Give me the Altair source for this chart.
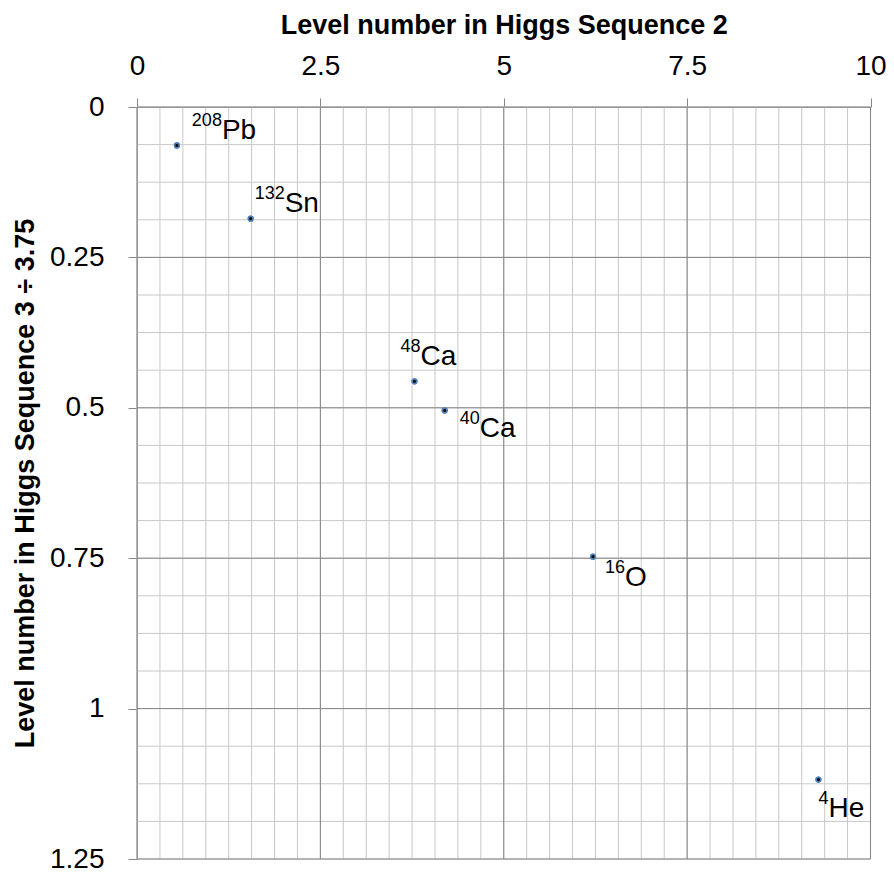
import altair as alt
import numpy as np
import pandas as pd

# ---- data ----
elements = ["Pb", "Sn", "Ca", "Ca", "O", "He"]
mass_numbers = ["208", "132", "48", "40", "16", "4"]
seq2_level = [0.544, 1.550, 3.783, 4.195, 6.217, 9.290]
seq3_level_scaled = [0.0638, 0.1857, 0.456, 0.5043, 0.7475, 1.118]

x_ticks = [0, 2.5, 5, 7.5, 10]
y_ticks = [0, 0.25, 0.5, 0.75, 1, 1.25]
x_minor_step = 0.3125
y_minor_step = 0.0625

# label placement (pixel offsets of the label from its point: style only)
label_dx = [45, 34, 6, 35, 32, 10]
label_dy = [-6, -7, -16, 27, 29, 37]

FONT = "Liberation Sans"
MAJOR = "#868686"
MINOR = "#c8c8c8"

df = pd.DataFrame({"x": seq2_level, "y": seq3_level_scaled,
                   "el": elements, "mass": mass_numbers})

xs = alt.Scale(domain=[0, 10], nice=False, zero=False)
ys = alt.Scale(domain=[0, 1.25], nice=False, zero=False, reverse=True)

x_axis = alt.Axis(orient="top", values=x_ticks, labelExpr="'' + datum.value", grid=False,
                  domainColor=MAJOR, tickColor=MAJOR, tickSize=9,
                  labelFont=FONT, labelFontSize=28, labelColor="black",
                  labelPadding=18, labelFlush=False, labelOverlap=False,
                  title="Level number in Higgs Sequence 2", titleFont=FONT,
                  titleFontSize=27, titleFontWeight="bold", titleColor="black",
                  titlePadding=13)
y_axis = alt.Axis(orient="left", values=y_ticks, labelExpr="'' + datum.value", grid=False,
                  domainColor=MAJOR, tickColor=MAJOR, tickSize=9,
                  labelFont=FONT, labelFontSize=28, labelColor="black",
                  labelPadding=24, labelFlush=False, labelOverlap=False,
                  title="Level number in Higgs Sequence 3 ÷ 3.75", titleFont=FONT,
                  titleFontSize=27, titleFontWeight="bold", titleColor="black",
                  titlePadding=10)

X = lambda f: alt.X(f, scale=xs, axis=x_axis)
Y = lambda f: alt.Y(f, scale=ys, axis=y_axis)

x_minor = pd.DataFrame({"x": np.arange(0, 10 + 1e-9, x_minor_step)})
y_minor = pd.DataFrame({"y": np.arange(0, 1.25 + 1e-9, y_minor_step)})
x_major = pd.DataFrame({"x": x_ticks})
y_major = pd.DataFrame({"y": y_ticks})

minor_x = alt.Chart(x_minor).mark_rule(color=MINOR, strokeWidth=1).encode(x=X("x:Q"))
minor_y = alt.Chart(y_minor).mark_rule(color=MINOR, strokeWidth=1).encode(y=Y("y:Q"))
major_x = alt.Chart(x_major).mark_rule(color=MAJOR, strokeWidth=1).encode(x=X("x:Q"))
major_y = alt.Chart(y_major).mark_rule(color=MAJOR, strokeWidth=1).encode(y=Y("y:Q"))

points = alt.Chart(df).mark_point(
    shape="circle", filled=True, fill="#0d0d0d", stroke="#4f81bd",
    strokeWidth=1.5, size=22, opacity=1).encode(x=X("x:Q"), y=Y("y:Q"))

labels = []
for i in range(len(df)):
    sub = df.iloc[[i]]
    labels.append(alt.Chart(sub).mark_text(
        align="right", baseline="alphabetic", font=FONT, fontSize=18,
        color="black", dx=label_dx[i], dy=label_dy[i] - 13).encode(
        x=X("x:Q"), y=Y("y:Q"), text="mass:N"))
    labels.append(alt.Chart(sub).mark_text(
        align="left", baseline="alphabetic", font=FONT, fontSize=28,
        color="black", dx=label_dx[i], dy=label_dy[i]).encode(
        x=X("x:Q"), y=Y("y:Q"), text="el:N"))

chart = alt.layer(points, minor_x, minor_y, major_x, major_y, points, *labels).properties(
    width=733.5, height=752,
    padding={"left": 129, "top": 99, "right": 15, "bottom": 13},
    autosize=alt.AutoSizeParams(type="none"),
    background="white",
).configure_view(stroke=None)

chart.save("out.html", embed_options={"renderer": "svg", "actions": False})
